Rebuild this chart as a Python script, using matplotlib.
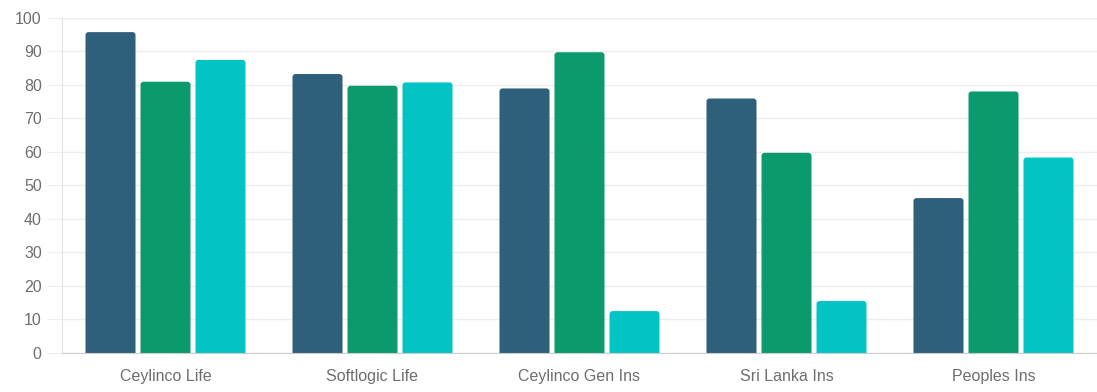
import numpy as np
import matplotlib.pyplot as plt
from matplotlib.patches import FancyBboxPatch

companies = ["Ceylinco Life", "Softlogic Life", "Ceylinco Gen Ins", "Sri Lanka Ins", "Peoples Ins"]
series_a = [95.7, 83.2, 78.9, 75.9, 46.2]
series_b = [80.9, 79.7, 89.7, 59.7, 78.0]
series_c = [87.4, 80.7, 12.5, 15.5, 58.3]
colors = ["#2e5f7b", "#0b9a6d", "#03c4c4"]

plt.rcParams['font.family'] = ['Liberation Sans', 'DejaVu Sans']

W, H = 1097, 392
fig = plt.figure(figsize=(W / 100, H / 100), dpi=100)
ax = fig.add_axes([62 / W, 39 / H, 1035 / W, 335.3 / H])
ax.set_xlim(-0.5, 4.5)
ax.set_ylim(0, 100)

# pixels per data unit, used for the rounded tops
px_x = 1035 / 5
px_y = 335.3 / 100
aspect = px_x / px_y
radius = 3 / px_x

step = 55 / px_x
width = 50 / px_x
x = np.arange(len(companies))

for i, vals in enumerate([series_a, series_b, series_c]):
    for xi, v in zip(x, vals):
        x0 = xi + (i - 1) * step - width / 2
        box = FancyBboxPatch((x0, -3), width, v + 3,
                             boxstyle=f"round,pad=0,rounding_size={radius}",
                             mutation_aspect=aspect,
                             facecolor=colors[i], edgecolor="none")
        ax.add_patch(box)

ax.set_xticks(x)
ax.set_xticklabels(companies)
ax.set_yticks(np.arange(0, 101, 10))
ax.grid(axis="y", color="#ededed", linewidth=1)
ax.set_axisbelow(True)

for s in ["top", "right"]:
    ax.spines[s].set_visible(False)
ax.spines["left"].set_color("#e3e3e3")
ax.spines["bottom"].set_color("#cccccc")

ax.tick_params(axis="y", length=11, color="#ededed", pad=3.6, labelsize=11.5, labelcolor="#6e6e6e")
ax.tick_params(axis="x", length=0, pad=11.5, labelsize=11.5, labelcolor="#6e6e6e")

fig.savefig("out.png", dpi=100)
